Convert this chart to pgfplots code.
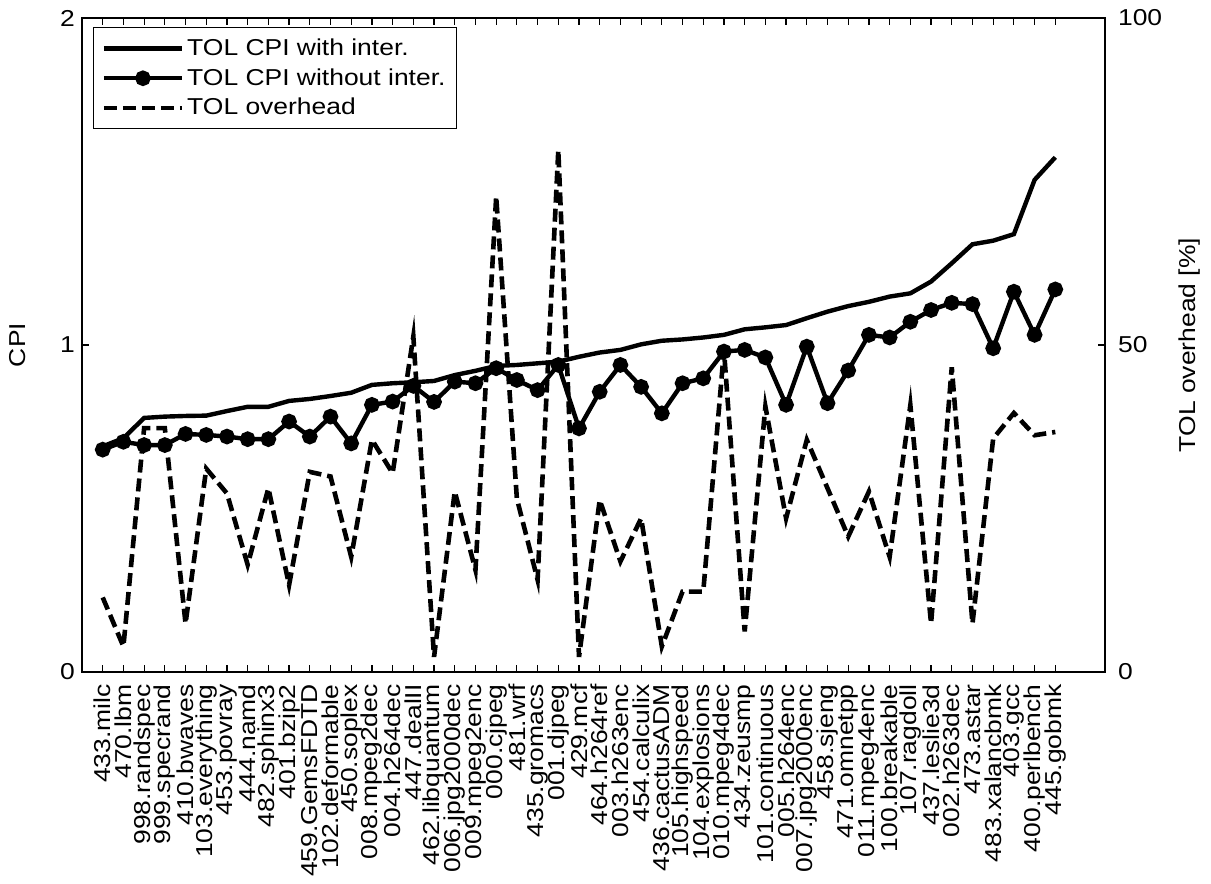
\documentclass[border=0pt]{standalone}
\usepackage{fontspec}
\setmainfont{Liberation Sans}[FakeStretch=1.15]
\usepackage{pgfplots}
\pgfplotsset{compat=1.18}
\usepackage{pgfplotstable}

\pgfplotstableread{
i with without over
1 0.690 0.680 11.4
2 0.715 0.704 3.9
3 0.777 0.694 37.3
4 0.781 0.694 37.3
5 0.783 0.728 7.4
6 0.784 0.725 31.1
7 0.798 0.720 27.3
8 0.811 0.712 16.4
9 0.811 0.712 28.1
10 0.829 0.766 13.3
11 0.835 0.720 30.6
12 0.844 0.781 29.9
13 0.854 0.699 17.6
14 0.878 0.817 35.5
15 0.883 0.827 30.4
16 0.886 0.875 51.3
17 0.890 0.826 2.3
18 0.908 0.888 27.6
19 0.921 0.883 15.6
20 0.936 0.929 72.7
21 0.939 0.893 26.5
22 0.944 0.862 14.1
23 0.949 0.939 79.8
24 0.964 0.745 2.3
25 0.977 0.857 26.3
26 0.985 0.939 16.9
27 1.002 0.872 23.5
28 1.013 0.791 3.9
29 1.017 0.883 12.3
30 1.023 0.898 12.3
31 1.031 0.980 49.2
32 1.048 0.985 6.2
33 1.054 0.962 40.6
34 1.061 0.817 23.5
35 1.082 0.995 35.5
36 1.102 0.822 28.1
37 1.119 0.922 20.7
38 1.132 1.031 27.6
39 1.148 1.023 17.6
40 1.158 1.071 40.8
41 1.194 1.107 7.4
42 1.250 1.129 46.6
43 1.308 1.125 7.4
44 1.319 0.990 35.7
45 1.339 1.163 39.6
46 1.505 1.031 36.2
47 1.574 1.170 36.7
}\data

\begin{document}
\begin{tikzpicture}
\pgfplotsset{
  every axis/.append style={
    scale only axis, width=511.5pt, height=327pt,
    xmin=0, xmax=49.4,
    font=\fontsize{11.5}{13.8}\selectfont,
    /pgf/number format/assume math mode=true,
    major tick length=3.5pt,
    axis line style={line width=0.6pt},
    every tick/.style={black, line width=0.6pt},
  },
}
\begin{axis}[
  ymin=0, ymax=2, ytick={0,1,2},
  xtick={1,...,47},
  xticklabels={433.milc,470.lbm,998.randspec,999.specrand,410.bwaves,103.everything,453.povray,444.namd,482.sphinx3,401.bzip2,459.GemsFDTD,102.deformable,450.soplex,008.mpeg2dec,004.h264dec,447.dealII,462.libquantum,006.jpg2000dec,009.mpeg2enc,000.cjpeg,481.wrf,435.gromacs,001.djpeg,429.mcf,464.h264ref,003.h263enc,454.calculix,436.cactusADM,105.highspeed,104.explosions,010.mpeg4dec,434.zeusmp,101.continuous,005.h264enc,007.jpg2000enc,458.sjeng,471.omnetpp,011.mpeg4enc,100.breakable,107.ragdoll,437.leslie3d,002.h263dec,473.astar,483.xalancbmk,403.gcc,400.perlbench,445.gobmk},
  xtick pos=both, xticklabel pos=lower, ytick pos=left,
  xticklabel style={rotate=90, anchor=east, inner sep=1pt},
  xticklabel shift=5pt,
  ylabel={CPI},
  ylabel style={at={(axis description cs:-0.0626,0.5)}, anchor=center},
]
\addplot[black, line width=2.2pt] table[x=i, y=with] {\data};
\addplot[black, line width=2.2pt, mark=*, mark size=2.8pt] table[x=i, y=without] {\data};
\end{axis}
\begin{axis}[
  ymin=0, ymax=100, ytick={0,50,100},
  axis y line*=right, hide x axis,
  yticklabel style={xshift=3pt},
  ylabel={TOL overhead [\%]},
  ylabel style={at={(axis description cs:1.083,0.5)}, anchor=center, rotate=0},
  legend image code/.code={\draw[mark repeat=2,mark phase=2,#1] plot coordinates {(0pt,0pt) (19.5pt,0pt) (39pt,0pt)};},
  legend cell align=left,
  legend style={at={(axis description cs:0.0108,0.986)}, anchor=north west, draw=black, line width=0.6pt, inner xsep=4pt, inner ysep=4pt, row sep=2pt, nodes={inner sep=1.5pt}},
]
\addlegendimage{black, line width=2.2pt}
\addlegendentry{TOL CPI with inter.}
\addlegendimage{black, line width=2.2pt, mark=*, mark size=2.8pt}
\addlegendentry{TOL CPI without inter.}
\addplot[black, line width=2.3pt, dash pattern=on 6.5pt off 3pt] table[x=i, y=over] {\data};
\addlegendentry{TOL overhead}
\end{axis}
\pgfresetboundingbox
\path[use as bounding box] (-41pt,-106pt) rectangle (564.5pt,336pt);
\end{tikzpicture}
\end{document}
